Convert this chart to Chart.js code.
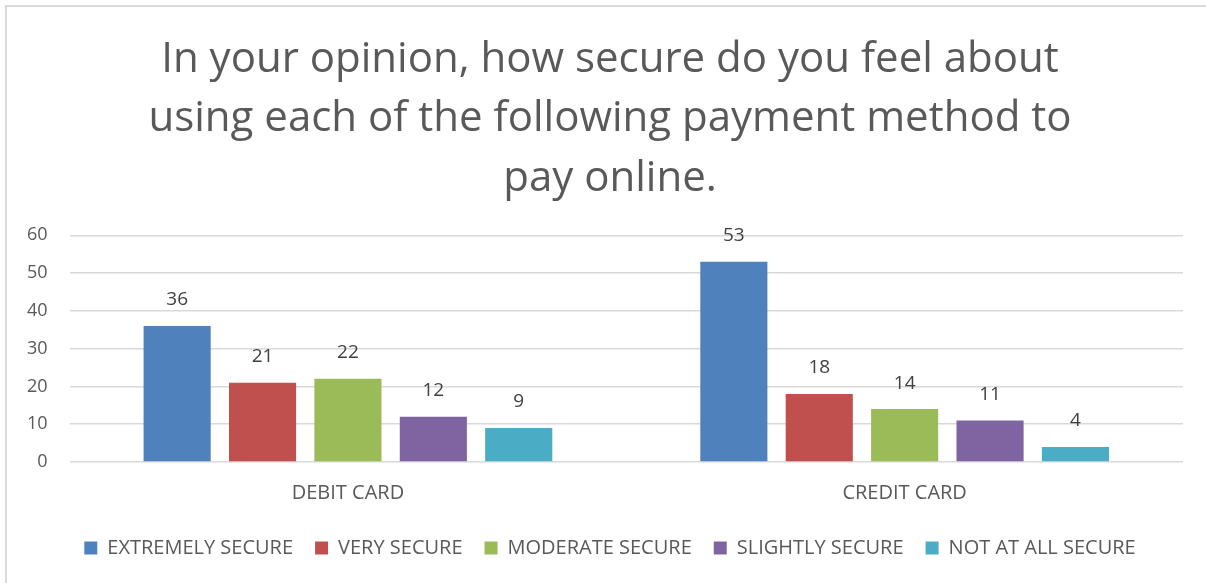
<!DOCTYPE html>
<html>
<head>
<meta charset="utf-8">
<script src="https://cdn.jsdelivr.net/npm/chart.js@4"></script>
<style>
  html, body { margin: 0; padding: 0; background: #fff; overflow: hidden; }
  #frame {
    position: absolute; left: 5px; top: 5px; width: 1230px; height: 590px;
    border-left: 2px solid #d9d9d9; border-top: 2px solid #d9d9d9;
  }
  #myChart { position: absolute; left: 0; top: 0; }
</style>
</head>
<body>
<div id="frame"></div>
<canvas id="myChart" width="1220" height="583"></canvas>
<script>
const categories = ["DEBIT CARD", "CREDIT CARD"];
const extremelySecure = [36, 53];
const verySecure = [21, 18];
const moderateSecure = [22, 14];
const slightlySecure = [12, 11];
const notAtAllSecure = [9, 4];
const yTicks = [0, 10, 20, 30, 40, 50, 60];

const fontFamily = "'Open Sans', Lato, sans-serif";

// writes each bar's value just above it
const valueLabels = {
  id: "valueLabels",
  afterDatasetsDraw(chart) {
    const ctx = chart.ctx;
    ctx.save();
    ctx.font = "19px " + fontFamily;
    ctx.fillStyle = "#404040";
    ctx.textAlign = "center";
    ctx.textBaseline = "middle";
    chart.data.datasets.forEach((ds, i) => {
      chart.getDatasetMeta(i).data.forEach((bar, j) => {
        ctx.fillText(ds.data[j], bar.x, bar.y - 26);
      });
    });
    ctx.restore();
  },
};

const chart = new Chart(document.getElementById("myChart"), {
  type: "bar",
  data: {
    labels: categories,
    datasets: [
      { label: "EXTREMELY SECURE", data: extremelySecure, backgroundColor: "#4f81bd" },
      { label: "VERY SECURE", data: verySecure, backgroundColor: "#c0504d" },
      { label: "MODERATE SECURE", data: moderateSecure, backgroundColor: "#9bbb59" },
      { label: "SLIGHTLY SECURE", data: slightlySecure, backgroundColor: "#8064a2" },
      { label: "NOT AT ALL SECURE", data: notAtAllSecure, backgroundColor: "#4bacc6" },
    ],
  },
  options: {
    responsive: false,
    animation: false,
    categoryPercentage: 0.767,
    barPercentage: 0.786,
    layout: { padding: { left: 5, right: 5, top: 30, bottom: 15 } },
    plugins: {
      title: {
        display: true,
        text: [
          "In your opinion, how secure do you feel about",
          "using each of the following payment method to",
          "pay online.",
        ],
        color: "#595959",
        font: { family: fontFamily, size: 42, weight: "normal", lineHeight: 1.415 },
        padding: { top: 0, bottom: 27 },
      },
      legend: {
        position: "bottom",
        labels: {
          color: "#595959",
          font: { family: fontFamily, size: 20 },
          boxWidth: 13,
          boxHeight: 13,
          padding: 22,
        },
      },
      tooltip: { enabled: false },
    },
    scales: {
      x: {
        grid: { display: false },
        border: { display: false },
        ticks: { color: "#595959", font: { family: fontFamily, size: 20 }, padding: 11 },
      },
      y: {
        min: 0,
        max: 60,
        afterBuildTicks: (axis) => { axis.ticks = yTicks.map((v) => ({ value: v })); },
        grid: { color: "#d9d9d9", lineWidth: 1.5, drawTicks: false },
        border: { display: false },
        ticks: { color: "#595959", font: { family: fontFamily, size: 18 }, padding: 22 },
      },
      // empty right-hand margin so the plot stops short of the frame edge
      spacer: {
        position: "right",
        min: 0,
        max: 60,
        grid: { display: false },
        border: { display: false },
        ticks: { display: false },
        afterFit: (axis) => { axis.width = 32; },
      },
    },
  },
  plugins: [valueLabels],
});
</script>
</body>
</html>
